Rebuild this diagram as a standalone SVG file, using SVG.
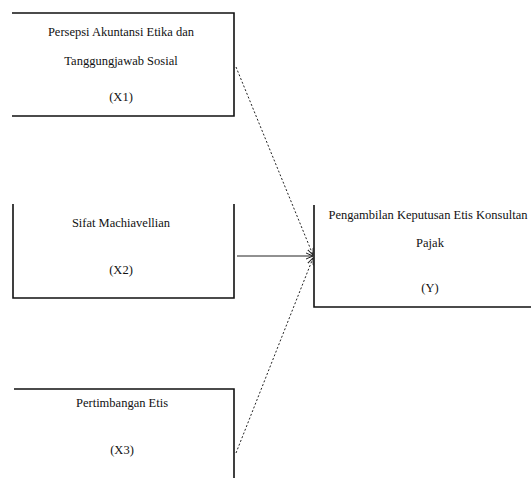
<svg xmlns="http://www.w3.org/2000/svg" width="531" height="478" viewBox="0 0 531 478">
<style>
.box{fill:none;stroke:#111;stroke-width:1.6}
.t{font-family:"Liberation Serif","Times New Roman",serif;font-size:12.5px;fill:#111;text-anchor:middle;dominant-baseline:central}
.c{fill:none;stroke:#222;stroke-width:1}
.d{stroke-dasharray:2,2}
</style>
<defs>
<marker id="ah" markerWidth="8" markerHeight="8" refX="7" refY="4" orient="auto" markerUnits="userSpaceOnUse">
<path d="M0,1 L7,4 L0,7" fill="none" stroke="#222" stroke-width="1"/>
</marker>
</defs>
<g id="x1">
<path class="box" d="M12,13 H234 V116 H12"/>
<text class="t" x="121" y="32">Persepsi Akuntansi Etika dan</text>
<text class="t" x="121" y="61">Tanggungjawab Sosial</text>
<text class="t" x="121" y="97">(X1)</text>
</g>
<g id="x2">
<path class="box" d="M13,204 V298 H234 V204"/>
<text class="t" x="121" y="223">Sifat Machiavellian</text>
<text class="t" x="121" y="270">(X2)</text>
</g>
<g id="x3">
<path class="box" d="M14,389 H234 V478"/>
<text class="t" x="122" y="403">Pertimbangan Etis</text>
<text class="t" x="122" y="450">(X3)</text>
</g>
<g id="y">
<path class="box" d="M314,205 V307 H531"/>
<text class="t" x="428" y="215">Pengambilan Keputusan Etis Konsultan</text>
<text class="t" x="430" y="243">Pajak</text>
<text class="t" x="430" y="288">(Y)</text>
</g>
<g id="connectors">
<line class="c d" x1="236" y1="67" x2="313" y2="255" marker-end="url(#ah)"/>
<line class="c" x1="237" y1="256" x2="313" y2="256" marker-end="url(#ah)"/>
<line class="c d" x1="236" y1="453" x2="313" y2="258" marker-end="url(#ah)"/>
</g>
</svg>
